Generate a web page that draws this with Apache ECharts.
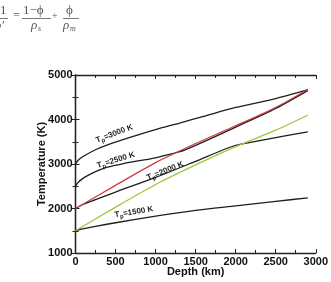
<!DOCTYPE html>
<html><head><meta charset="utf-8">
<script src="https://cdn.jsdelivr.net/npm/echarts@6/dist/echarts.min.js"></script>
<style>html,body{margin:0;padding:0;background:#fff}#c{width:331px;height:282px}</style>
</head><body><div id="c"></div>
<script>
// Data (depth in km, temperature in K)
const tp3000 = [[0,3000],[30,3080],[80,3150],[150,3225],[250,3320],[400,3430],[700,3610],[1000,3775],[1300,3920],[1600,4070],[2000,4270],[2500,4470],[2900,4670]];
const tp2500 = [[0,2500],[30,2580],[80,2660],[150,2740],[250,2830],[400,2930],[600,3010],[800,3075],[1000,3140],[1290,3270],[1500,3420],[2000,3830],[2500,4250],[2900,4650]];
const tp2000 = [[0,2000],[100,2095],[250,2200],[500,2370],[1000,2700],[1500,3060],[1980,3410],[2300,3525],[2600,3625],[2900,3720]];
const tp1500 = [[0,1500],[50,1528],[120,1555],[250,1600],[500,1680],[1000,1830],[1500,1960],[2000,2060],[2500,2160],[2900,2240]];
const liquidus = [[0,2000],[500,2520],[1000,3030],[1500,3460],[2000,3860],[2500,4270],[2900,4675]];
const solidus = [[0,1500],[500,2030],[1000,2540],[1500,2980],[2000,3390],[2500,3760],[2900,4095]];
const curveLabels = [
  {tp:'3000', depth:485, temp:3680, rot:21},
  {tp:'2500', depth:504, temp:3085, rot:17},
  {tp:'2000', depth:1120, temp:2843, rot:22},
  {tp:'1500', depth:730, temp:1920, rot:9}
];
const xTicks = {min:0, max:3000, interval:500};
const yTicks = {min:1000, max:5000, interval:1000};

const chart = echarts.init(document.getElementById('c'), null, {renderer:'canvas'});
const lbl = {fontFamily:'Liberation Sans, Arial, sans-serif', fontWeight:'bold', fontSize:11, color:'#111'};
const axLine = {show:true, lineStyle:{color:'#222', width:1.3}};
const fmt = function(v){ return String(v); };
function xa(pos, show){
  return {type:'value', position:pos, min:xTicks.min, max:xTicks.max, interval:xTicks.interval,
    axisLine:axLine, axisTick:{show:true, inside:true, length:4, lineStyle:{color:'#222', width:1}},
    minorTick:{show:true, splitNumber:2, length:3, lineStyle:{color:'#222', width:1}},
    splitLine:{show:false}, minorSplitLine:{show:false},
    axisLabel:show?Object.assign({margin:3, showMaxLabel:true, formatter:fmt}, lbl):{show:false},
    name:show?'Depth (km)':'', nameLocation:'middle', nameGap:13, nameMoveOverlap:false,
    nameTextStyle:Object.assign({}, lbl, {fontSize:11})};
}
function ya(pos, show){
  return {type:'value', position:pos, min:yTicks.min, max:yTicks.max, interval:yTicks.interval,
    axisLine:axLine, axisTick:{show:true, inside:true, length:4, lineStyle:{color:'#222', width:1}},
    minorTick:{show:true, splitNumber:2, length:3, lineStyle:{color:'#222', width:1}},
    splitLine:{show:false}, minorSplitLine:{show:false},
    axisLabel:show?Object.assign({margin:3, formatter:fmt}, lbl):{show:false},
    name:show?'Temperature (K)':'', nameLocation:'middle', nameGap:28, nameRotate:90, nameMoveOverlap:false,
    nameTextStyle:Object.assign({}, lbl, {fontSize:11})};
}
function line(data, color, w){
  return {type:'line', data:data, xAxisIndex:0, yAxisIndex:0, symbol:'none', smooth:0.25,
    lineStyle:{color:color, width:w}, silent:true, z:3};
}
chart.setOption({
  animation:false,
  backgroundColor:'#fff',
  grid:{left:75.5, right:11.5, top:75, bottom:29},
  xAxis:[xa('bottom', true), xa('top', false)],
  yAxis:[ya('left', true), ya('right', false)],
  series:[
    line(tp3000,'#1e1e1e',1.3),
    line(tp2500,'#1e1e1e',1.3),
    line(tp2000,'#1e1e1e',1.3),
    line(tp1500,'#1e1e1e',1.3),
    line(liquidus,'#d03a3e',1.3),
    line(solidus,'#9cc83c',1.3)
  ]
});

const serif = 'Liberation Serif, DejaVu Serif, serif';
const eqColor = '#555';
const g = [];
function t(x,y,txt,size,style){ g.push({type:'text', left:x, top:y, style:{text:txt, fontFamily:serif, fontSize:size||13, fontStyle:style||'normal', fill:eqColor}}); }
function bar(x1,x2,y){ g.push({type:'line', shape:{x1:x1,y1:y,x2:x2,y2:y}, style:{stroke:eqColor, lineWidth:0.8}}); }
t(0,4,'1',13); bar(-4,8,18.5); t(-5,19,'\u03c1\u2032',13,'italic');
t(13,10,'=',12);
t(23,4,'1\u2212\u03d5',13); bar(22,51,18.5); t(31,19,'\u03c1',13,'italic'); t(38,25,'s',8,'italic');
t(52,11,'+',10);
t(66,4,'\u03d5',13); bar(63,79,18.5); t(63,19,'\u03c1',13,'italic'); t(70,25,'m',8,'italic');

curveLabels.forEach(function(c){
  const p = chart.convertToPixel({xAxisIndex:0, yAxisIndex:0}, [c.depth, c.temp]);
  g.push({type:'text', x:p[0], y:p[1], rotation:c.rot*Math.PI/180, z:10,
    style:{text:'T{s|p}=' + c.tp + ' K', x:0, y:0, align:'center', verticalAlign:'middle',
      fontFamily:'Liberation Sans, Arial, sans-serif', fontSize:8, fontWeight:'bold', fill:'#222',
      rich:{s:{fontSize:6, fontWeight:'bold', verticalAlign:'bottom', padding:[5,0,0,0], fontFamily:'Liberation Sans, Arial, sans-serif', fill:'#222'}}}});
});
chart.setOption({graphic:g});
</script>
</body></html>
